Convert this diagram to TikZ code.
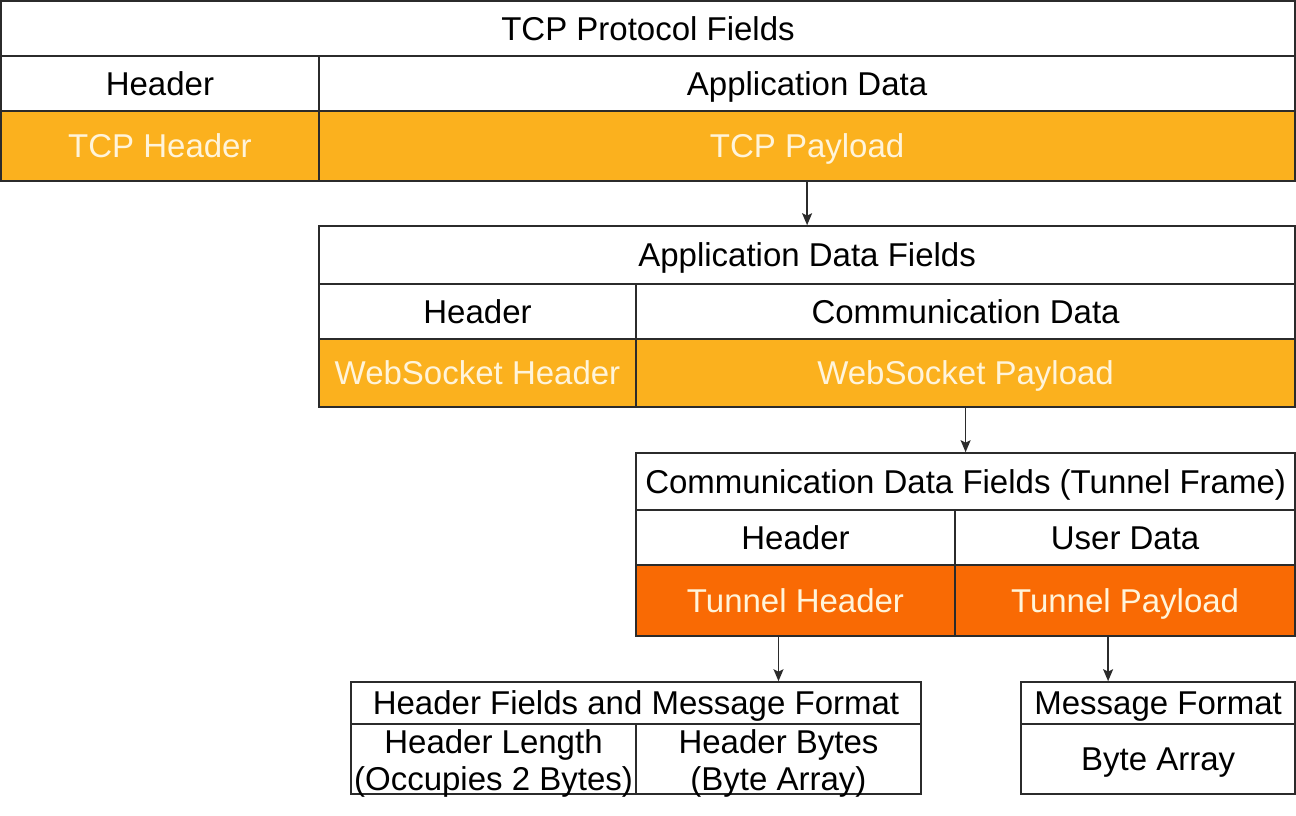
\documentclass[tikz,border=0pt]{standalone}
\usepackage{fontspec}
\setmainfont{Liberation Sans}
\usetikzlibrary{arrows.meta}
\definecolor{amber}{HTML}{FBB11E}
\definecolor{tunnel}{HTML}{F96A04}
\definecolor{cream}{HTML}{FFF4DA}
\definecolor{edge}{HTML}{2B2B2B}
\tikzset{
  cell/.style={draw=edge, line width=1.6pt, inner sep=0pt, text height=23.6pt, text depth=0pt, font=\fontsize{33}{37}\selectfont},
  plain/.style={cell, fill=white, text=black},
  amb/.style={cell, fill=amber, text=cream},
  org/.style={cell, fill=tunnel, text=cream},
  txt/.style={inner sep=0pt, font=\fontsize{33}{37}\selectfont, anchor=base, text=black},
  flow/.style={draw=edge, line width=1.6pt, -{Stealth[length=12pt,width=10pt,inset=2.5pt]}},
}
\newcommand{\mkcell}[7]{\node[#1,minimum width={#5-#3},minimum height={#6-#4}] (#2) at ({(#3+#5)/2},{(#4+#6)/2}) {#7};}
\begin{document}
\begin{tikzpicture}[x=1pt,y=-1pt]
\useasboundingbox (0,0) rectangle (1296,816);
% Table 1
\mkcell{plain}{t1title}{0.8}{0.8}{1295.2}{56}{TCP Protocol Fields}
\mkcell{plain}{t1h}{0.8}{56}{319}{111}{Header}
\mkcell{plain}{t1a}{319}{56}{1295.2}{111}{Application Data}
\mkcell{amb}{tcph}{0.8}{111}{319}{181}{TCP Header}
\mkcell{amb}{tcpp}{319}{111}{1295.2}{181}{TCP Payload}
% Table 2
\mkcell{plain}{t2title}{319}{226}{1295.2}{284}{Application Data Fields}
\mkcell{plain}{t2h}{319}{284}{636}{339}{Header}
\mkcell{plain}{t2c}{636}{284}{1295.2}{339}{Communication Data}
\mkcell{amb}{wsh}{319}{339}{636}{407}{WebSocket Header}
\mkcell{amb}{wsp}{636}{339}{1295.2}{407}{WebSocket Payload}
% Table 3
\mkcell{plain}{t3title}{636}{453}{1295.2}{510}{Communication Data Fields (Tunnel Frame)}
\mkcell{plain}{t3h}{636}{510}{955}{565}{Header}
\mkcell{plain}{t3u}{955}{510}{1295.2}{565}{User Data}
\mkcell{org}{th}{636}{565}{955}{636}{Tunnel Header}
\mkcell{org}{tp}{955}{565}{1295.2}{636}{Tunnel Payload}
% Table 4
\mkcell{plain}{t4title}{351}{682}{921}{724}{Header Fields and Message Format}
\mkcell{plain}{hl}{351}{724}{636}{794}{}
\mkcell{plain}{hb}{636}{724}{921}{794}{}
\node[txt] (hl1) at (493.5,753) {Header Length};
\node[txt] (hl2) at (493.5,790) {(Occupies 2 Bytes)};
\node[txt] (hb1) at (778.5,753) {Header Bytes};
\node[txt] (hb2) at (778.5,790) {(Byte Array)};
% Table 5
\mkcell{plain}{t5title}{1021}{682}{1295.2}{724}{Message Format}
\mkcell{plain}{ba}{1021}{724}{1295.2}{794}{Byte Array}
% Arrows
\draw[flow] (tcpp.south) -- (t2title.north);
\draw[flow] (wsp.south) -- (t3title.north);
\draw[flow] (th.south -| hb) -- (hb |- t4title.north);
\draw[flow] ([xshift=-17pt]tp.south) -- ([xshift=-17pt]tp.south |- t5title.north);
\end{tikzpicture}
\end{document}
